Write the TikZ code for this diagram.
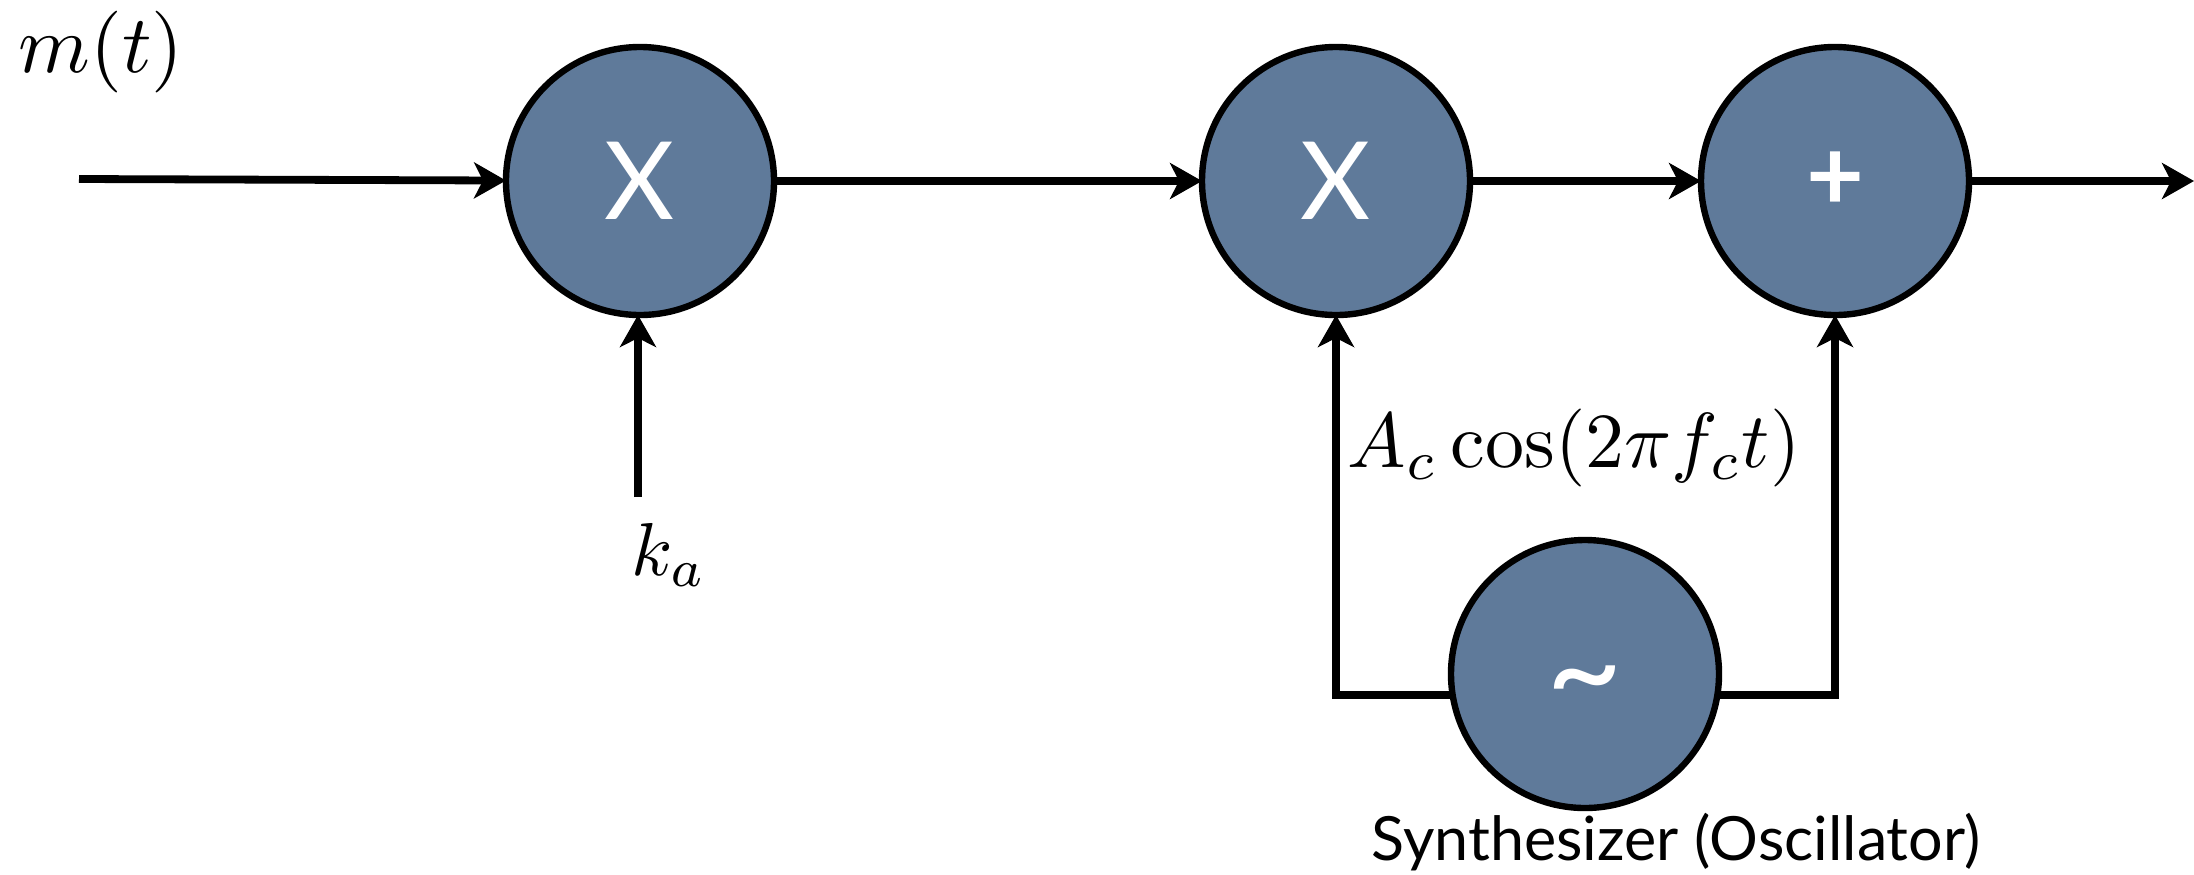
\documentclass[tikz,border=0pt]{standalone}
\usepackage{fontspec}
\newfontfamily\signfont{Lato}
\usetikzlibrary{arrows.meta}
\definecolor{slateblue}{HTML}{5F7A9A}
\begin{document}
\begin{tikzpicture}[x=0.5pt,y=-0.5pt,
        >={Stealth[length=16pt,width=18pt,inset=4.5pt]},
        wire/.style={line width=3.9pt},
        unit/.style={circle,draw=black,line width=3.2pt,fill=slateblue,minimum size=134pt,inner sep=0pt,outer sep=0pt,text=white},
        sign/.style={font=\signfont\fontsize{54}{54}\selectfont},
        tag/.style={inner sep=0pt,scale=3.75}]
        \useasboundingbox (0,0) rectangle (2194,874);
        \node[unit,sign] (mixa) at (640,181) {X};
        \node[unit,sign] (mixb) at (1336,181) {X};
        \node[unit,font=\signfont\bfseries\fontsize{50}{50}\selectfont] (sum) at (1835,181) {+};
        \node[unit,font=\signfont\fontsize{66}{66}\selectfont] (osc) at (1585,674) {\raisebox{-21pt}[0pt][0pt]{\char`\~}};
        \coordinate (inp) at (79,179);
        \coordinate (outp) at (2194,181);
        \coordinate (gain) at (638,497);
        \node[tag,scale=1.09] (msg) at (101,52) {$m(t)$};
        \node[tag] (ka) at (669,555) {$k_a$};
        \node[tag,scale=1.04] (carrier) at (1574,448) {$A_c\cos(2\pi f_c t)$};
        \node[inner sep=0pt,font=\signfont\fontsize{30.5}{32}\selectfont] (synth) at (1676,842) {Synthesizer (Oscillator)};

        \draw[wire,->] (inp) -- (mixa);
        \draw[wire,->] (mixa) -- (mixb);
        \draw[wire,->] (mixb) -- (sum);
        \draw[wire,->] (sum) -- (outp);
        \draw[wire,->] (gain) -- (gain |- mixa.south);
        \draw[wire,->] (osc.189.5) -| (mixb.south);
        \draw[wire,->] (osc.-9.5) -| (sum.south);
    \end{tikzpicture}
\end{document}
